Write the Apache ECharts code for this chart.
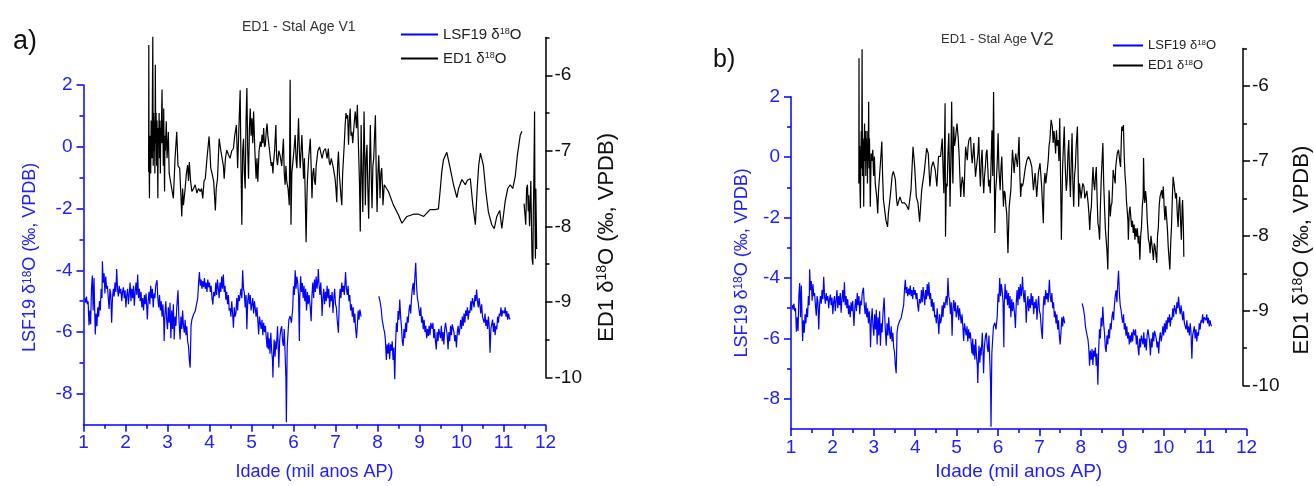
<!DOCTYPE html>
<html><head><meta charset="utf-8">
<script src="https://cdn.jsdelivr.net/npm/echarts@6/dist/echarts.min.js"></script>
<style>html,body{margin:0;padding:0;background:#fff}#c{width:1314px;height:486px}</style>
</head><body><div id="c"></div>
<script>
// ---- DATA (age in ka BP, d18O in permil VPDB) ----
const lsf19 = [
[1.03,-4.90],[1.05,-5.05],[1.07,-4.85],[1.09,-5.10],[1.11,-5.00],[1.13,-5.78],[1.15,-5.30],[1.17,-5.75],[1.19,-4.60],[1.21,-4.17],
[1.23,-5.30],[1.25,-4.25],[1.27,-5.50],[1.28,-6.08],[1.30,-5.40],[1.32,-5.81],[1.34,-5.20],[1.36,-5.50],[1.38,-5.00],[1.40,-5.30],
[1.42,-4.60],[1.44,-4.90],[1.45,-3.71],[1.47,-4.40],[1.49,-4.10],[1.51,-4.75],[1.53,-4.20],[1.55,-4.60],[1.57,-4.50],[1.59,-4.90],
[1.61,-5.25],[1.63,-4.60],[1.65,-4.80],[1.67,-5.70],[1.69,-4.90],[1.71,-4.60],[1.73,-4.85],[1.75,-4.40],[1.77,-4.70],[1.79,-3.96],
[1.81,-4.60],[1.83,-4.85],[1.85,-4.50],[1.87,-4.75],[1.89,-4.60],[1.91,-5.00],[1.93,-4.70],[1.95,-4.55],[1.97,-4.90],[1.99,-4.65],
[2.01,-5.20],[2.03,-4.80],[2.05,-4.60],[2.07,-5.10],[2.09,-4.75],[2.11,-4.40],[2.13,-5.00],[2.15,-4.60],[2.17,-4.90],[2.19,-4.50],
[2.21,-5.15],[2.23,-4.70],[2.25,-4.40],[2.27,-4.80],[2.29,-4.14],[2.31,-4.90],[2.33,-4.60],[2.35,-5.00],[2.37,-4.70],[2.39,-5.20],
[2.41,-4.90],[2.43,-5.30],[2.45,-4.80],[2.47,-5.10],[2.49,-4.75],[2.51,-5.30],[2.52,-5.59],[2.54,-5.00],[2.56,-4.70],[2.58,-5.10],
[2.60,-4.50],[2.62,-4.90],[2.64,-4.60],[2.66,-5.20],[2.68,-4.75],[2.70,-4.90],[2.72,-4.50],[2.75,-4.32],[2.77,-4.90],[2.79,-5.20],
[2.81,-4.80],[2.83,-5.30],[2.85,-5.00],[2.87,-5.50],[2.89,-5.10],[2.91,-5.60],[2.92,-6.29],[2.94,-5.40],[2.96,-5.00],[2.98,-5.60],
[3.00,-5.91],[3.02,-5.20],[3.04,-5.70],[3.06,-5.05],[3.08,-6.20],[3.10,-5.30],[3.12,-5.90],[3.14,-5.10],[3.16,-6.24],[3.18,-5.50],
[3.20,-5.80],[3.22,-5.20],[3.25,-4.65],[3.27,-5.50],[3.30,-6.24],[3.32,-5.50],[3.34,-5.90],[3.36,-5.30],[3.38,-5.80],[3.40,-6.02],
[3.42,-5.60],[3.44,-6.10],[3.46,-5.81],[3.48,-6.30],[3.50,-6.45],[3.52,-6.90],[3.54,-7.15],[3.56,-5.81],[3.58,-5.60],[3.62,-5.43],
[3.66,-5.32],[3.70,-5.38],[3.72,-4.90],[3.74,-4.41],[3.76,-4.06],[3.78,-4.50],[3.80,-4.30],[3.82,-4.60],[3.84,-4.35],[3.86,-4.55],
[3.88,-4.25],[3.90,-4.60],[3.92,-4.40],[3.94,-4.70],[3.96,-4.30],[3.98,-4.55],[4.00,-4.40],[4.02,-4.70],[4.04,-4.50],[4.06,-4.90],
[4.08,-5.11],[4.10,-4.70],[4.13,-4.84],[4.15,-4.40],[4.17,-4.80],[4.19,-4.30],[4.21,-4.60],[4.23,-4.90],[4.25,-4.40],[4.27,-4.70],
[4.29,-4.20],[4.31,-4.60],[4.33,-4.14],[4.35,-4.70],[4.37,-4.50],[4.39,-4.95],[4.41,-4.70],[4.43,-5.10],[4.45,-4.80],[4.47,-5.30],
[4.49,-5.22],[4.51,-5.50],[4.53,-5.00],[4.55,-5.40],[4.57,-5.86],[4.59,-5.20],[4.61,-5.50],[4.63,-5.38],[4.65,-4.90],[4.67,-5.30],
[4.69,-4.80],[4.71,-5.00],[4.73,-4.95],[4.75,-4.60],[4.77,-4.90],[4.79,-4.00],[4.81,-4.60],[4.83,-4.73],[4.85,-5.20],[4.87,-4.80],
[4.89,-5.91],[4.91,-5.00],[4.93,-4.73],[4.95,-5.10],[4.97,-4.80],[4.99,-5.30],[5.01,-5.11],[5.03,-4.90],[5.05,-5.40],[5.07,-5.00],
[5.09,-4.95],[5.11,-5.50],[5.13,-5.20],[5.15,-5.60],[5.17,-6.08],[5.19,-5.50],[5.21,-5.48],[5.23,-5.90],[5.25,-5.60],[5.27,-6.10],
[5.29,-5.70],[5.31,-6.00],[5.33,-5.80],[5.35,-6.13],[5.37,-6.50],[5.39,-6.00],[5.40,-6.56],[5.42,-6.20],[5.44,-6.70],[5.46,-6.02],
[5.48,-6.60],[5.50,-6.90],[5.51,-7.47],[5.53,-6.50],[5.54,-6.24],[5.56,-6.80],[5.58,-6.30],[5.59,-6.56],[5.61,-6.10],[5.62,-5.81],
[5.64,-6.60],[5.65,-7.15],[5.67,-6.30],[5.68,-6.13],[5.70,-5.90],[5.72,-5.81],[5.74,-6.30],[5.76,-6.45],[5.78,-5.90],[5.80,-5.91],
[5.82,-7.50],[5.83,-8.92],[5.85,-6.50],[5.87,-6.02],[5.89,-5.60],[5.92,-5.48],[5.95,-5.70],[5.98,-5.27],[6.00,-4.52],[6.02,-4.80],
[6.04,-4.00],[6.06,-4.60],[6.08,-4.20],[6.10,-4.41],[6.12,-4.80],[6.14,-6.29],[6.15,-4.90],[6.17,-4.19],[6.19,-4.70],[6.21,-4.41],
[6.23,-4.90],[6.25,-4.50],[6.27,-5.00],[6.29,-4.60],[6.31,-5.30],[6.33,-4.70],[6.35,-5.10],[6.37,-4.80],[6.40,-5.20],[6.42,-5.65],
[6.44,-4.80],[6.46,-4.40],[6.48,-4.90],[6.50,-4.30],[6.52,-4.70],[6.54,-4.20],[6.56,-4.60],[6.58,-4.30],[6.59,-3.96],[6.61,-4.50],
[6.63,-4.80],[6.65,-4.40],[6.67,-5.00],[6.68,-5.48],[6.70,-4.90],[6.72,-4.60],[6.74,-5.10],[6.76,-4.70],[6.78,-5.00],[6.80,-4.50],
[6.82,-4.90],[6.84,-4.60],[6.86,-5.20],[6.88,-4.80],[6.90,-5.00],[6.92,-4.70],[6.94,-5.38],[6.96,-4.90],[6.98,-4.60],[7.00,-5.10],
[7.02,-5.20],[7.04,-5.60],[7.07,-6.02],[7.09,-5.00],[7.11,-4.60],[7.13,-4.90],[7.15,-4.40],[7.17,-4.70],[7.19,-4.50],[7.21,-4.80],
[7.23,-4.30],[7.24,-4.06],[7.26,-4.60],[7.28,-4.80],[7.30,-4.50],[7.32,-5.00],[7.34,-4.80],[7.36,-5.30],[7.38,-5.10],[7.40,-5.50],
[7.42,-5.20],[7.44,-5.70],[7.46,-5.40],[7.48,-5.90],[7.50,-6.20],[7.52,-5.80],[7.54,-5.30],[7.56,-5.60],[7.58,-5.27],[7.61,-5.50],
[7.80,null],
[8.03,-4.84],[8.06,-5.00],[8.09,-5.27],[8.11,-5.60],[8.13,-5.59],[8.15,-5.90],[8.17,-6.02],[8.19,-6.30],[8.21,-6.90],[8.23,-6.40],
[8.25,-6.70],[8.27,-6.35],[8.29,-6.88],[8.31,-6.40],[8.33,-6.60],[8.35,-6.30],[8.37,-6.90],[8.39,-6.50],[8.41,-7.53],[8.43,-6.40],
[8.45,-5.70],[8.47,-6.00],[8.49,-5.32],[8.51,-5.60],[8.53,-4.95],[8.55,-5.50],[8.57,-5.81],[8.59,-6.30],[8.61,-6.45],[8.63,-5.90],
[8.65,-6.20],[8.67,-5.70],[8.69,-6.00],[8.71,-5.50],[8.73,-5.70],[8.75,-5.30],[8.77,-5.11],[8.79,-5.40],[8.81,-4.90],[8.83,-4.60],
[8.85,-4.41],[8.87,-4.80],[8.89,-4.20],[8.91,-3.76],[8.93,-4.50],[8.95,-4.90],[8.97,-5.05],[8.99,-5.30],[9.01,-5.48],[9.03,-5.20],
[9.05,-5.70],[9.07,-5.50],[9.09,-5.91],[9.11,-5.60],[9.13,-6.00],[9.15,-5.80],[9.17,-6.20],[9.19,-5.90],[9.21,-6.13],[9.23,-5.80],
[9.25,-6.10],[9.27,-5.70],[9.30,-5.90],[9.32,-5.70],[9.34,-6.20],[9.36,-5.90],[9.38,-6.30],[9.40,-6.56],[9.42,-6.00],[9.44,-6.30],
[9.46,-5.90],[9.48,-5.91],[9.50,-6.20],[9.52,-5.80],[9.54,-6.30],[9.56,-6.00],[9.58,-6.40],[9.60,-5.90],[9.62,-5.70],[9.64,-5.70],
[9.66,-6.10],[9.68,-6.56],[9.70,-6.00],[9.72,-6.30],[9.74,-5.80],[9.76,-6.10],[9.78,-5.75],[9.80,-5.70],[9.82,-6.00],[9.84,-6.30],
[9.86,-6.10],[9.88,-6.50],[9.90,-6.00],[9.92,-5.80],[9.94,-6.10],[9.96,-5.91],[9.98,-5.60],[10.00,-5.90],[10.02,-5.50],[10.04,-5.80],
[10.06,-5.40],[10.08,-5.70],[10.10,-5.30],[10.12,-5.48],[10.14,-5.20],[10.16,-5.60],[10.18,-5.30],[10.20,-5.38],[10.22,-5.00],[10.24,-5.30],
[10.26,-4.90],[10.28,-5.05],[10.30,-5.20],[10.32,-4.80],[10.34,-5.00],[10.36,-4.62],[10.38,-5.00],[10.40,-5.20],[10.42,-4.90],[10.44,-5.16],
[10.46,-5.40],[10.48,-5.10],[10.50,-5.50],[10.52,-5.48],[10.54,-5.70],[10.56,-5.40],[10.58,-5.80],[10.60,-5.60],[10.62,-5.90],[10.64,-5.50],
[10.66,-5.80],[10.68,-6.67],[10.70,-5.90],[10.72,-5.91],[10.74,-5.60],[10.76,-6.00],[10.78,-5.70],[10.80,-6.10],[10.82,-5.80],[10.84,-5.91],
[10.86,-5.50],[10.88,-5.70],[10.90,-5.40],[10.92,-5.48],[10.94,-5.20],[10.96,-5.50],[10.98,-5.30],[11.00,-5.27],[11.02,-5.40],[11.04,-5.20],
[11.06,-5.50],[11.08,-5.32],[11.10,-5.60],[11.12,-5.40],[11.14,-5.55],[11.16,-5.59]
];

const ed1StalAgeV1 = [
[2.55,-7.28],[2.555,-5.60],[2.56,-7.00],[2.57,-7.63],[2.58,-6.80],[2.60,-7.30],[2.61,-6.60],[2.63,-7.10],[2.65,-5.49],[2.66,-7.20],
[2.67,-6.50],[2.68,-7.00],[2.69,-6.60],[2.70,-7.30],[2.71,-5.86],[2.72,-6.90],[2.73,-6.50],[2.74,-7.20],[2.75,-6.60],[2.76,-7.00],
[2.77,-7.63],[2.78,-6.70],[2.79,-6.90],[2.80,-6.50],[2.81,-7.10],[2.82,-6.60],[2.83,-7.30],[2.84,-6.70],[2.85,-6.90],[2.86,-6.50],
[2.87,-6.19],[2.88,-6.90],[2.89,-6.60],[2.90,-7.20],[2.91,-6.44],[2.92,-7.00],[2.93,-7.54],[2.94,-6.80],[2.95,-7.00],[2.97,-6.61],
[2.99,-7.10],[3.02,-6.75],[3.04,-7.30],[3.06,-7.32],[3.10,-7.50],[3.14,-7.63],[3.18,-7.10],[3.22,-6.75],[3.25,-7.20],[3.29,-7.23],
[3.32,-7.60],[3.34,-7.87],[3.36,-7.50],[3.38,-7.72],[3.42,-7.50],[3.45,-7.30],[3.48,-7.19],[3.50,-7.40],[3.52,-7.15],[3.55,-7.40],
[3.58,-7.54],[3.62,-7.50],[3.66,-7.45],[3.70,-7.56],[3.74,-7.50],[3.78,-7.54],[3.81,-7.50],[3.84,-7.63],[3.87,-7.40],[3.90,-7.37],
[3.94,-7.10],[3.99,-6.81],[4.01,-7.00],[4.03,-7.23],[4.06,-7.30],[4.10,-7.41],[4.14,-7.79],[4.16,-7.50],[4.19,-7.37],[4.23,-6.84],
[4.27,-7.00],[4.31,-7.01],[4.33,-7.20],[4.35,-7.37],[4.38,-7.10],[4.41,-6.99],[4.45,-7.05],[4.49,-7.10],[4.53,-7.00],[4.57,-6.97],
[4.60,-6.80],[4.64,-6.66],[4.67,-7.23],[4.70,-6.70],[4.73,-6.20],[4.75,-7.20],[4.77,-7.98],[4.79,-7.00],[4.81,-6.84],[4.83,-7.30],
[4.85,-7.50],[4.87,-6.60],[4.89,-6.17],[4.91,-7.00],[4.93,-7.37],[4.95,-6.70],[4.97,-6.44],[4.99,-6.80],[5.01,-6.57],[5.03,-6.90],
[5.05,-6.48],[5.08,-7.00],[5.11,-7.37],[5.13,-7.10],[5.15,-7.41],[5.18,-7.00],[5.21,-6.88],[5.23,-6.95],[5.25,-6.79],[5.27,-6.90],
[5.29,-6.70],[5.31,-6.95],[5.33,-6.92],[5.35,-6.75],[5.37,-6.64],[5.39,-6.80],[5.41,-6.79],[5.43,-7.00],[5.45,-7.01],[5.47,-7.20],
[5.49,-7.15],[5.51,-7.30],[5.52,-7.19],[5.55,-7.00],[5.58,-6.66],[5.60,-7.10],[5.62,-7.19],[5.65,-7.00],[5.68,-7.06],[5.72,-7.20],
[5.76,-6.84],[5.78,-7.30],[5.80,-7.45],[5.82,-7.20],[5.84,-7.41],[5.87,-7.50],[5.90,-7.72],[5.92,-6.06],[5.94,-7.98],[5.96,-7.30],
[5.99,-7.28],[6.01,-7.00],[6.04,-6.79],[6.06,-7.10],[6.08,-7.23],[6.10,-6.90],[6.12,-6.57],[6.14,-7.00],[6.16,-7.23],[6.18,-7.00],
[6.20,-6.79],[6.22,-7.10],[6.24,-7.37],[6.26,-7.10],[6.28,-7.63],[6.30,-8.21],[6.32,-7.60],[6.33,-7.41],[6.36,-7.10],[6.40,-6.84],
[6.42,-7.20],[6.44,-7.63],[6.46,-7.30],[6.48,-7.23],[6.50,-7.40],[6.52,-7.45],[6.54,-7.20],[6.56,-7.10],[6.58,-7.00],[6.60,-7.01],
[6.62,-6.95],[6.64,-6.97],[6.66,-7.05],[6.68,-7.10],[6.72,-7.00],[6.76,-6.97],[6.80,-7.10],[6.83,-6.97],[6.85,-7.15],[6.87,-7.19],
[6.90,-7.10],[6.95,-7.23],[6.97,-7.30],[6.99,-7.37],[7.01,-7.50],[7.03,-7.68],[7.05,-7.20],[7.07,-7.01],[7.09,-7.30],[7.11,-7.45],
[7.13,-7.60],[7.15,-7.72],[7.17,-7.30],[7.19,-7.10],[7.21,-6.90],[7.23,-6.66],[7.25,-6.50],[7.27,-6.57],[7.29,-6.53],[7.31,-6.92],
[7.33,-6.60],[7.35,-6.44],[7.37,-6.80],[7.39,-6.75],[7.41,-6.90],[7.43,-6.88],[7.45,-6.60],[7.47,-6.48],[7.50,-6.70],[7.52,-6.39],
[7.55,-7.01],[7.57,-7.40],[7.59,-8.07],[7.61,-6.66],[7.63,-7.30],[7.65,-7.81],[7.67,-6.90],[7.68,-6.48],[7.70,-7.20],[7.71,-7.72],
[7.73,-7.10],[7.75,-6.92],[7.77,-7.50],[7.79,-7.90],[7.81,-7.20],[7.83,-6.66],[7.85,-7.30],[7.87,-7.76],[7.89,-7.20],[7.91,-7.10],
[7.93,-6.80],[7.95,-6.53],[7.97,-7.30],[7.99,-7.81],[8.01,-7.30],[8.03,-7.06],[8.05,-7.40],[8.06,-7.63],[8.08,-7.30],[8.10,-7.23],
[8.12,-7.50],[8.13,-7.72],[8.16,-7.45],[8.26,-7.54],[8.38,-7.72],[8.50,-7.85],[8.58,-7.96],[8.70,-7.87],[8.86,-7.84],[8.98,-7.84],
[9.10,-7.87],[9.25,-7.78],[9.37,-7.78],[9.45,-7.77],[9.49,-7.54],[9.53,-7.28],[9.57,-7.12],[9.65,-7.02],[9.73,-7.23],[9.81,-7.45],
[9.89,-7.62],[9.93,-7.50],[10.01,-7.38],[10.09,-7.45],[10.14,-7.39],[10.21,-7.37],[10.27,-7.72],[10.33,-7.98],[10.37,-7.54],[10.41,-7.19],
[10.45,-7.03],[10.52,-7.19],[10.58,-7.54],[10.64,-7.81],[10.72,-7.98],[10.78,-8.03],[10.84,-7.87],[10.91,-7.79],[10.96,-8.03],[11.00,-7.85],
[11.04,-7.67],[11.10,-7.50],[11.16,-7.45],[11.22,-7.50],[11.28,-7.34],[11.33,-7.06],[11.40,-6.79],[11.44,-6.74],
[11.46,null],
[11.49,-7.70],[11.53,-7.98],[11.55,-7.50],[11.57,-7.45],[11.59,-7.80],[11.60,-7.59],[11.62,-8.00],[11.64,-7.98],[11.65,-7.40],[11.66,-7.41],
[11.67,-8.10],[11.68,-8.43],[11.70,-8.51],[11.71,-7.80],[11.72,-7.50],[11.74,-6.48],[11.75,-7.90],[11.76,-8.43],[11.77,-7.50],[11.79,-8.30]
];

const ed1StalAgeV2 = [
[2.65,-7.30],[2.655,-5.63],[2.66,-7.10],[2.67,-6.80],[2.68,-7.40],[2.69,-7.63],[2.70,-6.90],[2.71,-6.60],[2.72,-7.10],[2.73,-5.51],
[2.74,-7.20],[2.75,-6.70],[2.76,-7.00],[2.77,-7.61],[2.78,-6.80],[2.79,-6.50],[2.80,-7.00],[2.81,-6.60],[2.82,-7.20],[2.83,-6.70],
[2.84,-7.00],[2.85,-6.60],[2.86,-7.30],[2.87,-6.80],[2.88,-7.00],[2.89,-6.21],[2.90,-7.10],[2.91,-6.70],[2.93,-7.61],[2.95,-6.90],
[2.97,-7.00],[2.99,-6.85],[3.01,-7.20],[3.03,-6.94],[3.05,-7.30],[3.07,-7.30],[3.09,-7.50],[3.11,-7.70],[3.13,-7.40],[3.15,-7.39],
[3.18,-7.00],[3.21,-6.74],[3.23,-7.20],[3.25,-7.52],[3.27,-7.61],[3.29,-7.70],[3.31,-7.79],[3.35,-7.88],[3.37,-7.70],[3.39,-7.70],
[3.41,-7.50],[3.43,-7.39],[3.46,-7.20],[3.49,-7.14],[3.52,-7.20],[3.54,-7.25],[3.57,-7.52],[3.59,-7.60],[3.61,-7.61],[3.65,-7.48],
[3.70,-7.56],[3.76,-7.56],[3.81,-7.59],[3.86,-7.65],[3.92,-7.39],[3.97,-6.81],[4.01,-7.08],[4.05,-7.48],[4.09,-7.56],[4.13,-7.81],
[4.18,-7.39],[4.24,-7.16],[4.27,-7.00],[4.30,-6.83],[4.34,-6.90],[4.38,-7.34],[4.42,-7.08],[4.46,-7.01],[4.51,-7.12],[4.55,-7.34],
[4.59,-6.94],[4.64,-6.94],[4.68,-6.70],[4.70,-7.10],[4.72,-7.43],[4.75,-6.23],[4.76,-8.01],[4.78,-7.30],[4.80,-7.34],[4.82,-6.90],
[4.84,-6.63],[4.86,-7.20],[4.87,-7.61],[4.89,-7.00],[4.91,-6.21],[4.93,-7.10],[4.94,-7.30],[4.96,-6.54],[4.98,-6.80],[5.00,-6.72],
[5.02,-6.60],[5.04,-6.50],[5.07,-6.70],[5.09,-6.90],[5.11,-7.20],[5.13,-7.48],[5.15,-7.30],[5.17,-7.21],[5.19,-7.30],[5.21,-7.48],
[5.23,-7.10],[5.25,-6.81],[5.27,-6.90],[5.29,-6.99],[5.31,-6.80],[5.33,-6.72],[5.35,-6.70],[5.37,-6.68],[5.39,-6.90],[5.41,-7.03],
[5.43,-6.90],[5.45,-6.76],[5.47,-7.00],[5.49,-7.21],[5.51,-7.10],[5.53,-7.08],[5.55,-6.90],[5.57,-6.68],[5.59,-7.10],[5.61,-7.34],
[5.63,-7.00],[5.65,-6.85],[5.67,-7.20],[5.69,-7.43],[5.71,-7.20],[5.73,-7.08],[5.75,-6.90],[5.77,-6.85],[5.79,-7.10],[5.81,-7.34],
[5.83,-7.25],[5.85,-7.43],[5.87,-7.00],[5.89,-6.59],[5.91,-7.20],[5.93,-6.08],[5.96,-7.96],[5.98,-7.40],[6.00,-7.25],[6.02,-7.00],
[6.04,-6.63],[6.06,-7.10],[6.09,-7.39],[6.11,-7.10],[6.13,-6.94],[6.15,-7.30],[6.17,-7.61],[6.19,-7.40],[6.21,-7.43],[6.23,-7.60],
[6.25,-7.70],[6.28,-8.23],[6.31,-7.61],[6.33,-7.50],[6.35,-7.39],[6.37,-7.10],[6.39,-6.85],[6.41,-7.00],[6.43,-7.16],[6.45,-7.00],
[6.47,-6.90],[6.49,-7.00],[6.51,-7.08],[6.53,-6.90],[6.55,-6.68],[6.57,-7.20],[6.59,-7.48],[6.61,-7.30],[6.63,-7.34],[6.65,-7.30],
[6.67,-7.30],[6.70,-7.10],[6.74,-6.99],[6.78,-6.94],[6.82,-6.99],[6.86,-7.08],[6.90,-7.39],[6.94,-7.16],[6.98,-7.48],[7.02,-7.16],
[7.06,-7.03],[7.10,-7.34],[7.14,-7.83],[7.16,-7.30],[7.18,-7.16],[7.20,-7.30],[7.22,-7.30],[7.24,-7.10],[7.26,-6.99],[7.28,-6.80],
[7.30,-6.72],[7.33,-6.45],[7.36,-6.54],[7.38,-6.76],[7.40,-6.60],[7.42,-6.72],[7.44,-6.90],[7.46,-6.59],[7.48,-6.80],[7.50,-6.72],
[7.52,-7.00],[7.54,-6.43],[7.56,-7.20],[7.58,-8.05],[7.61,-7.08],[7.63,-6.80],[7.65,-6.54],[7.67,-7.00],[7.68,-7.16],[7.70,-7.40],
[7.72,-7.25],[7.74,-6.90],[7.76,-6.72],[7.78,-7.20],[7.80,-7.48],[7.82,-7.00],[7.84,-6.63],[7.86,-7.30],[7.88,-7.61],[7.90,-7.20],
[7.92,-7.08],[7.94,-6.80],[7.97,-6.54],[7.99,-7.20],[8.00,-7.61],[8.02,-7.30],[8.04,-7.30],[8.06,-7.50],[8.08,-7.48],[8.10,-7.30],
[8.13,-7.34],[8.15,-7.50],[8.17,-7.52],[8.20,-7.40],[8.23,-7.56],[8.25,-7.70],[8.27,-7.92],[8.29,-7.70],[8.31,-7.61],[8.33,-7.30],
[8.35,-7.08],[8.37,-7.30],[8.39,-7.39],[8.41,-7.20],[8.43,-7.08],[8.45,-7.50],[8.47,-7.83],[8.49,-7.90],[8.51,-8.05],[8.53,-7.60],
[8.55,-7.25],[8.57,-7.00],[8.59,-6.76],[8.61,-7.30],[8.63,-7.61],[8.65,-7.90],[8.67,-8.05],[8.69,-8.20],[8.71,-8.45],[8.73,-7.80],
[8.74,-7.39],[8.76,-7.60],[8.77,-7.74],[8.79,-7.60],[8.81,-7.56],[8.83,-7.30],[8.84,-7.12],[8.86,-7.20],[8.89,-7.30],[8.90,-7.10],
[8.92,-6.99],[8.94,-6.90],[8.97,-6.85],[9.00,-7.00],[9.02,-7.08],[9.04,-6.70],[9.05,-6.54],[9.07,-6.60],[9.09,-6.52],[9.11,-6.94],
[9.13,-7.20],[9.15,-7.34],[9.16,-7.50],[9.18,-7.65],[9.20,-7.80],[9.21,-8.05],[9.23,-7.70],[9.25,-7.61],[9.27,-7.75],[9.29,-7.88],
[9.31,-7.80],[9.33,-7.96],[9.35,-7.85],[9.37,-8.05],[9.39,-7.90],[9.41,-8.01],[9.43,-7.90],[9.45,-8.10],[9.47,-8.00],[9.49,-8.32],
[9.51,-8.00],[9.53,-7.88],[9.55,-7.60],[9.57,-7.48],[9.58,-6.96],[9.60,-7.50],[9.61,-7.56],[9.63,-7.40],[9.65,-7.52],[9.67,-7.80],
[9.70,-8.05],[9.72,-8.10],[9.74,-8.23],[9.76,-8.00],[9.78,-8.10],[9.80,-8.20],[9.82,-8.32],[9.84,-8.10],[9.86,-8.14],[9.88,-8.25],
[9.90,-8.36],[9.92,-8.00],[9.94,-7.88],[9.96,-7.60],[9.98,-7.48],[10.00,-7.50],[10.02,-7.39],[10.04,-7.50],[10.06,-7.34],[10.08,-7.60],
[10.10,-7.79],[10.12,-7.60],[10.14,-7.61],[10.16,-7.90],[10.18,-8.14],[10.20,-8.30],[10.22,-8.45],[10.24,-8.10],[10.26,-7.88],[10.28,-7.50],
[10.30,-7.21],[10.32,-7.30],[10.34,-7.30],[10.36,-7.50],[10.38,-7.43],[10.40,-7.70],[10.42,-7.88],[10.44,-7.60],[10.46,-7.48],[10.48,-7.80],
[10.50,-8.05],[10.52,-7.60],[10.53,-7.52],[10.55,-7.90],[10.56,-8.28]
];

const ageTicks = [1,2,3,4,5,6,7,8,9,10,11,12];
const lsfTicks = [-8,-6,-4,-2,0,2];
const lsfMinorTicks = [-7,-5,-3,-1,1];
const ed1Ticks = [-10,-9,-8,-7,-6];
const ed1MinorTicks = [-9.5,-8.5,-7.5,-6.5,-5.5];

// ---- STYLE ----
const FONT = "'Liberation Sans', Arial, sans-serif";
const BLUE = '#0000ff';
const BLUE_TXT = '#2020ff';
const BLACK = '#000000';

const chart = echarts.init(document.getElementById('c'), null, {renderer: 'canvas'});

function xAx(gridIndex, show, nameGap, nameSize) {
  return {
    type: 'value', gridIndex, min: ageTicks[0], max: ageTicks[ageTicks.length - 1], interval: 1,
    show,
    name: 'Idade (mil anos AP)', nameLocation: 'middle', nameGap,
    nameTextStyle: {fontFamily: FONT, fontSize: nameSize, color: BLUE_TXT},
    axisLine: {show: true, onZero: false, lineStyle: {color: BLUE, width: 1.5}},
    axisTick: {show: true, length: 7, lineStyle: {color: BLUE, width: 1.5}},
    minorTick: {show: true, splitNumber: 2, length: 4, lineStyle: {color: BLUE, width: 1.5}},
    axisLabel: {fontFamily: FONT, fontSize: 19, color: BLUE_TXT, margin: 9},
    splitLine: {show: false}, minorSplitLine: {show: false}
  };
}
function yLeft(gridIndex, nameGap, padRight) {
  return [{
    type: 'value', gridIndex, position: 'left', min: -9, max: 2,
    name: 'LSF19 δ{sup|18}O (‰, VPDB)', nameLocation: 'middle', nameGap, nameRotate: 90,
    nameTextStyle: {fontFamily: FONT, fontSize: 18, color: BLUE_TXT, padding: [0, padRight, 0, 0],
      rich: {sup: {fontFamily: FONT, fontSize: 12, color: BLUE_TXT, verticalAlign: 'top'}}},
    axisLine: {show: true, onZero: false, lineStyle: {color: BLUE, width: 1.5}},
    axisTick: {show: true, length: 7, customValues: lsfTicks, lineStyle: {color: BLUE, width: 1.5}},
    axisLabel: {fontFamily: FONT, fontSize: 19, color: BLUE_TXT, margin: 11, customValues: lsfTicks},
    splitLine: {show: false}
  }, {
    type: 'value', gridIndex, position: 'left', min: -9, max: 2,
    axisLine: {show: false},
    axisTick: {show: true, length: 4, customValues: lsfMinorTicks, lineStyle: {color: BLUE, width: 1.5}},
    axisLabel: {show: false}, splitLine: {show: false}
  }];
}
function yRight(gridIndex, nameGap, padRight) {
  return [{
    type: 'value', gridIndex, position: 'right', min: -10, max: -5.5,
    name: 'ED1 δ{sup|18}O (‰, VPDB)', nameLocation: 'middle', nameGap, nameRotate: 90,
    nameTextStyle: {fontFamily: FONT, fontSize: 22, color: '#111', padding: [0, padRight, 0, 0],
      rich: {sup: {fontFamily: FONT, fontSize: 14, color: '#111', verticalAlign: 'top'}}},
    axisLine: {show: true, onZero: false, lineStyle: {color: BLACK, width: 1.5}},
    axisTick: {show: true, length: 7, customValues: ed1Ticks, lineStyle: {color: BLACK, width: 1.5}},
    axisLabel: {fontFamily: FONT, fontSize: 19, color: '#111', margin: 9, customValues: ed1Ticks},
    splitLine: {show: false}
  }, {
    type: 'value', gridIndex, position: 'right', min: -10, max: -5.5,
    axisLine: {show: false},
    axisTick: {show: true, length: 4, customValues: ed1MinorTicks, lineStyle: {color: BLACK, width: 1.5}},
    axisLabel: {show: false}, splitLine: {show: false}
  }];
}

function lineSeries(name, data, xIdx, yIdx, color) {
  return {
    name, type: 'line', data, xAxisIndex: xIdx, yAxisIndex: yIdx,
    symbol: 'none', showSymbol: false, connectNulls: false, clip: false,
    lineStyle: {color, width: 1.2}, itemStyle: {color}, animation: false, silent: true
  };
}

const legendFmt = n => n === 'LSF19' ? 'LSF19 δ{sup|18}O' : 'ED1 δ{sup|18}O';

const option = {
  backgroundColor: '#ffffff',
  animation: false,
  title: [
    {text: 'a)', left: 8, top: 23, textStyle: {fontFamily: FONT, fontSize: 27, fontWeight: 'normal', color: '#111'}},
    {text: 'b)', left: 708, top: 43, textStyle: {fontFamily: FONT, fontSize: 25, fontWeight: 'normal', color: '#111'}},
    {text: 'ED1 - Stal Age V1', left: 237, top: 15, textStyle: {fontFamily: FONT, fontSize: 14, fontWeight: 'normal', color: '#333'}},
    {text: 'ED1 - Stal Age {big|V2}', left: 936, top: 25,
      textStyle: {fontFamily: FONT, fontSize: 13, fontWeight: 'normal', color: '#333',
        rich: {big: {fontFamily: FONT, fontSize: 19, color: '#333'}}}}
  ],
  legend: [
    {left: 396, top: 22, orient: 'vertical', icon: 'rect', itemWidth: 37, itemHeight: 2, itemGap: 9,
     selectedMode: false, data: ['LSF19', 'ED1'], formatter: legendFmt,
     textStyle: {fontFamily: FONT, fontSize: 15, color: '#222',
       rich: {sup: {fontFamily: FONT, fontSize: 9, color: '#222', verticalAlign: 'top'}}}},
    {left: 1108, top: 34, orient: 'vertical', icon: 'rect', itemWidth: 30, itemHeight: 2, itemGap: 7,
     selectedMode: false, data: ['LSF19', 'ED1'], formatter: legendFmt,
     textStyle: {fontFamily: FONT, fontSize: 13, color: '#222',
       rich: {sup: {fontFamily: FONT, fontSize: 8, color: '#222', verticalAlign: 'top'}}}}
  ],
  grid: [
    {left: 83.5, top: 85, width: 462, height: 339.7},
    {left: 83.5, top: 37.5, width: 462, height: 339.8},
    {left: 791, top: 96.7, width: 455.5, height: 337.3},
    {left: 791, top: 48.6, width: 455.5, height: 337.1}
  ],
  xAxis: [xAx(0, true, 38, 18), xAx(1, false, 0, 18), xAx(2, true, 30, 19), xAx(3, false, 0, 18)],
  yAxis: [
    ...yLeft(0, 44, 5),
    ...yRight(1, 50, 60),
    ...yLeft(2, 40, 0),
    ...yRight(3, 48, 66)
  ],
  series: [
    lineSeries('LSF19', lsf19, 0, 0, BLUE),
    lineSeries('ED1', ed1StalAgeV1, 1, 2, BLACK),
    lineSeries('LSF19', lsf19, 2, 4, BLUE),
    lineSeries('ED1', ed1StalAgeV2, 3, 6, BLACK)
  ]
};
chart.setOption(option);
</script></body></html>
